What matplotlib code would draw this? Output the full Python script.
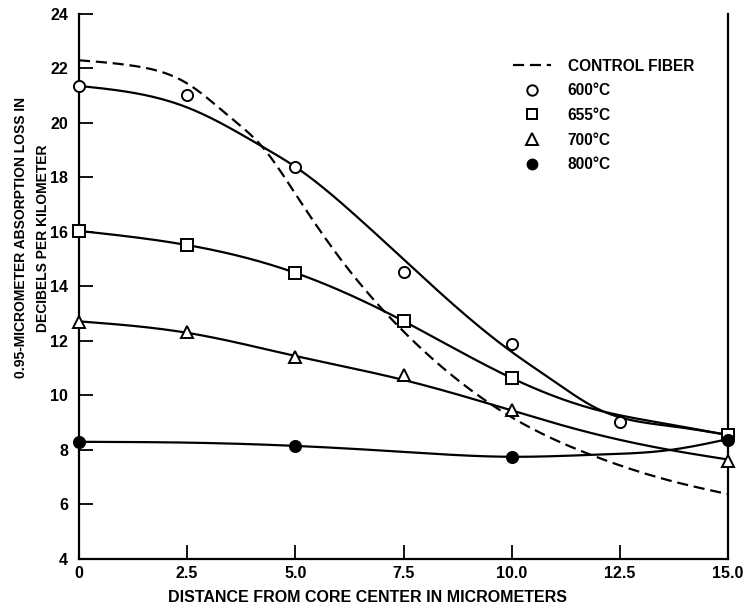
import numpy as np
import matplotlib
matplotlib.use("Agg")
import matplotlib.pyplot as plt
from matplotlib.lines import Line2D

plt.rcParams["font.family"] = ["Liberation Sans", "DejaVu Sans"]

# measured points (markers)
x_600 = [0, 2.5, 5, 7.5, 10, 12.5]
y_600 = [21.36, 21.03, 18.39, 14.53, 11.88, 9.04]
x_655 = [0, 2.5, 5, 7.5, 10, 15]
y_655 = [16.04, 15.52, 14.5, 12.73, 10.64, 8.55]
x_700 = [0, 2.5, 5, 7.5, 10, 15]
y_700 = [12.71, 12.34, 11.42, 10.75, 9.47, 7.6]
x_800 = [0, 5, 10, 15]
y_800 = [8.3, 8.16, 7.75, 8.37]

# fitted curves
cx_ctrl = [0, 1.25, 2.5, 3.5, 4.25, 5, 6, 7.5, 10, 12, 13.6, 15]
cy_ctrl = [22.3, 22.1, 21.45, 20.2, 19.1, 17.4, 15.1, 12.35, 9.2, 7.72, 6.9, 6.38]
cx_600 = [0, 2.5, 4.25, 5, 6.5, 7.5, 8.5, 10, 11, 12, 12.5, 13.75, 15]
cy_600 = [21.36, 20.57, 19.12, 18.39, 16.45, 15.0, 13.55, 11.6, 10.5, 9.5, 9.2, 8.86, 8.55]
cx_655 = [0, 2.5, 5, 7.5, 10, 11.97, 13.5, 15]
cy_655 = [16.04, 15.52, 14.5, 12.73, 10.64, 9.47, 8.98, 8.55]
cx_700 = [0, 2.5, 5, 7.5, 10, 11.6, 13.66, 15]
cy_700 = [12.72, 12.3, 11.45, 10.57, 9.45, 8.72, 8.0, 7.65]
cx_800 = [0, 2.5, 5, 7.5, 10, 12, 13.66, 15]
cy_800 = [8.3, 8.27, 8.15, 7.93, 7.75, 7.83, 8.0, 8.4]

x_ticks = [0, 2.5, 5, 7.5, 10, 12.5, 15]
x_ticklabels = ["0", "2.5", "5.0", "7.5", "10.0", "12.5", "15.0"]
y_ticks = [4, 6, 8, 10, 12, 14, 16, 18, 20, 22, 24]


def smooth(x, y, n=400):
    # natural cubic spline through the read points
    x = np.asarray(x, float)
    y = np.asarray(y, float)
    h = np.diff(x)
    m = len(x)
    A = np.zeros((m, m))
    r = np.zeros(m)
    A[0, 0] = A[-1, -1] = 1
    for i in range(1, m - 1):
        A[i, i - 1] = h[i - 1]
        A[i, i] = 2 * (h[i - 1] + h[i])
        A[i, i + 1] = h[i]
        r[i] = 3 * ((y[i + 1] - y[i]) / h[i] - (y[i] - y[i - 1]) / h[i - 1])
    c = np.linalg.solve(A, r)
    b = (y[1:] - y[:-1]) / h - h * (2 * c[:-1] + c[1:]) / 3
    d = (c[1:] - c[:-1]) / (3 * h)
    xs = np.linspace(x[0], x[-1], n)
    idx = np.clip(np.searchsorted(x, xs) - 1, 0, m - 2)
    dx = xs - x[idx]
    return xs, y[idx] + b[idx] * dx + c[idx] * dx**2 + d[idx] * dx**3


fig = plt.figure(figsize=(7.44, 6.07), dpi=100)
ax = fig.add_axes([0.1062, 0.0791, 0.8723, 0.8979])

lw = 1.6
ax.plot(*smooth(cx_ctrl, cy_ctrl), color="black", lw=lw, dashes=(5, 2.6))
for cx, cy in [(cx_600, cy_600), (cx_655, cy_655), (cx_700, cy_700), (cx_800, cy_800)]:
    ax.plot(*smooth(cx, cy), color="black", lw=lw)

mk = dict(linestyle="none", markeredgecolor="black", markeredgewidth=1.4, clip_on=False, zorder=5)
ax.plot(x_600, y_600, marker="o", markersize=8, markerfacecolor="white", **mk)
ax.plot(x_655, y_655, marker="s", markersize=8, markerfacecolor="white", **mk)
ax.plot(x_700, y_700, marker="^", markersize=9, markerfacecolor="white", **mk)
ax.plot(x_800, y_800, marker="o", markersize=8, markerfacecolor="black", **mk)

ax.set_xlim(0, 15)
ax.set_ylim(4, 24)
ax.set_xticks(x_ticks)
ax.set_xticklabels(x_ticklabels)
ax.set_yticks(y_ticks)
ax.tick_params(direction="in", length=10, width=1.3, labelsize=11.5)
ax.tick_params(axis="x", pad=5)
ax.tick_params(axis="y", pad=8)
for lab in ax.get_xticklabels() + ax.get_yticklabels():
    lab.set_fontweight("bold")

ax.spines["top"].set_visible(False)
for s in ["left", "bottom", "right"]:
    ax.spines[s].set_linewidth(1.6)

fig.text(367 / 744, 1 - 597 / 607, "DISTANCE FROM CORE CENTER IN MICROMETERS",
         ha="center", va="center", fontsize=11.5, fontweight="bold")
fig.text(32 / 744, 1 - 238 / 607,
         "0.95-MICROMETER ABSORPTION LOSS IN\nDECIBELS PER KILOMETER",
         ha="center", va="center", rotation=90, fontsize=10, fontweight="bold",
         multialignment="center", linespacing=1.7)

handles = [
    Line2D([], [], color="black", lw=lw, dashes=(5, 2.6)),
    Line2D([], [], marker="o", markersize=7.5, markerfacecolor="white", markeredgecolor="black",
           markeredgewidth=1.4, linestyle="none"),
    Line2D([], [], marker="s", markersize=7.5, markerfacecolor="white", markeredgecolor="black",
           markeredgewidth=1.4, linestyle="none"),
    Line2D([], [], marker="^", markersize=8.5, markerfacecolor="white", markeredgecolor="black",
           markeredgewidth=1.4, linestyle="none"),
    Line2D([], [], marker="o", markersize=7.5, markerfacecolor="black", markeredgecolor="black",
           linestyle="none"),
]
labels = ["CONTROL FIBER", "600°C", "655°C", "700°C", "800°C"]
ax.legend(handles, labels, loc="upper left", bbox_to_anchor=(0.669, 0.918),
          frameon=False, prop=dict(size=11.2, weight="bold"), handlelength=2.4,
          handletextpad=1.1, labelspacing=0.62, borderpad=0, borderaxespad=0)

fig.savefig("out.png", dpi=100)
